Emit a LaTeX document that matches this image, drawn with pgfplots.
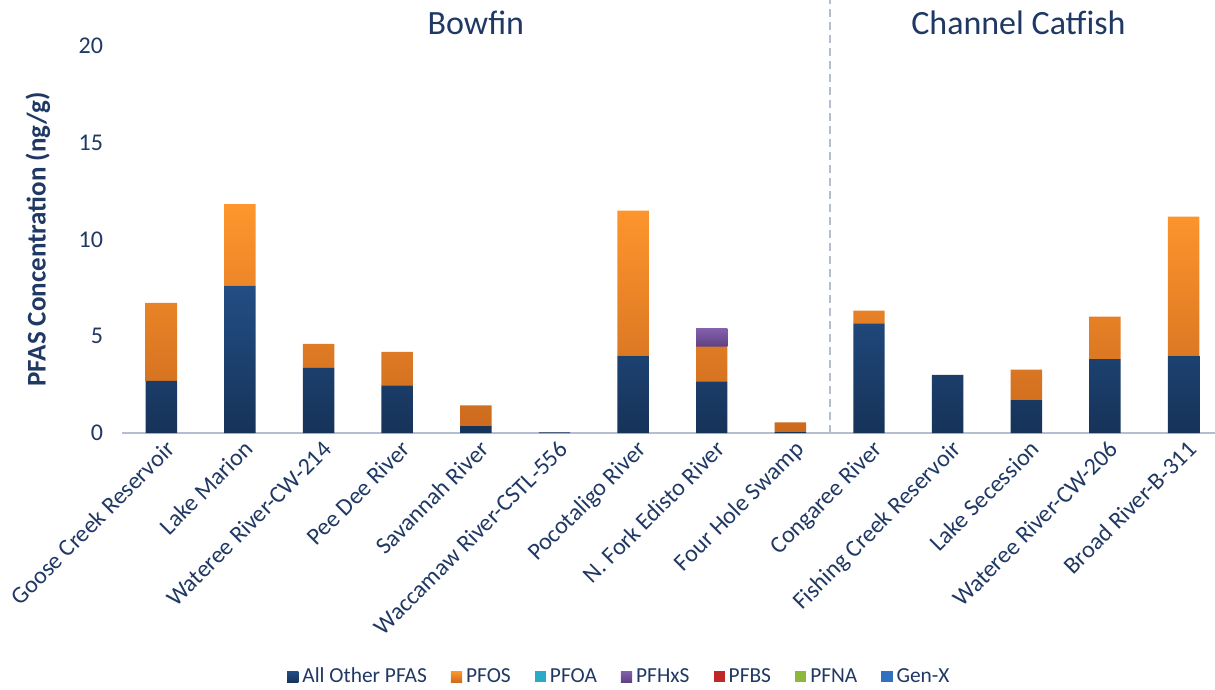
\documentclass[border=0pt]{standalone}
\usepackage{fontspec}
\setmainfont{Carlito}
\usepackage{pgfplots}
\pgfplotsset{compat=1.18}
\usepackage{pgfplotstable}

\definecolor{navytxt}{RGB}{31,56,100}
\definecolor{otherTop}{RGB}{34,78,132}
\definecolor{otherBot}{RGB}{22,51,89}
\definecolor{pfosTop}{RGB}{255,150,45}
\definecolor{pfosBot}{RGB}{203,106,30}
\definecolor{pfoaC}{RGB}{40,170,200}
\definecolor{hxsTop}{RGB}{132,96,172}
\definecolor{hxsBot}{RGB}{94,64,130}
\definecolor{pfbsC}{RGB}{190,40,40}
\definecolor{pfnaC}{RGB}{140,185,60}
\definecolor{genxC}{RGB}{52,112,192}
\definecolor{axisgray}{RGB}{180,190,206}

% PFAS concentrations (ng/g) by site
\pgfplotstableread{
x other pfos pfoa pfhxs pfbs pfna genx
0  2.70 4.02 0 0    0 0 0
1  7.61 4.22 0 0    0 0 0
2  3.37 1.23 0 0    0 0 0
3  2.46 1.73 0 0    0 0 0
4  0.38 1.05 0 0    0 0 0
5  0.03 0.00 0 0    0 0 0
6  4.00 7.49 0 0    0 0 0
7  2.67 1.79 0 0.93 0 0 0
8  0.04 0.51 0 0    0 0 0
9  5.67 0.65 0 0    0 0 0
10 3.01 0.00 0 0    0 0 0
11 1.70 1.57 0 0    0 0 0
12 3.82 2.19 0 0    0 0 0
13 4.00 7.18 0 0    0 0 0
}\pfasdata

\begin{document}
\begin{tikzpicture}
\begin{axis}[
  at={(0,0)}, anchor=south west,
  scale only axis,
  width=546.5pt, height=193.5pt,
  ybar stacked,
  bar width=0.4,
  xmin=-0.5, xmax=13.4,
  ymin=0, ymax=20,
  ytick={0,5,10,15,20},
  xtick={0,...,13},
  xticklabels={Goose Creek Reservoir, Lake Marion, Wateree River-CW-214, Pee Dee River, Savannah River, Waccamaw River-CSTL-556, Pocotaligo River, N. Fork Edisto River, Four Hole Swamp, Congaree River, Fishing Creek Reservoir, Lake Secession, Wateree River-CW-206, Broad River-B-311},
  x tick label style={rotate=45, anchor=north east, font=\fontsize{12}{14}\selectfont, text=navytxt, inner sep=1pt, yshift=-2pt},
  y tick label style={font=\fontsize{12}{14}\selectfont, text=navytxt, xshift=-6pt},
  /pgf/number format/assume math mode=true,
  major tick length=0pt,
  axis x line*=bottom,
  axis y line*=left,
  x axis line style={draw=axisgray, line width=0.8pt, -},
  y axis line style={draw=none},
  ylabel={PFAS Concentration (ng/g)},
  every axis y label/.style={at={(axis description cs:-0.077,0.5)}, rotate=90, anchor=center, font=\fontsize{13.5}{15}\selectfont\bfseries, text=navytxt},
  clip=false,
  every axis plot post/.append style={legend image code/.code={\fill[##1] (0pt,-2.8pt) rectangle (5.6pt,2.8pt);}},
  legend style={at={(axis description cs:0.456,-0.63)}, anchor=center, draw=none, fill=none,
    legend columns=7, font=\fontsize{10.7}{12}\selectfont, text=navytxt,
    /tikz/every even column/.append style={column sep=10pt},
    legend cell align=left},
]
\addplot[draw=none, top color=otherTop, bottom color=otherBot] table[x=x, y=other] {\pfasdata};
\addlegendentry{All Other PFAS}
\addplot[draw=none, top color=pfosTop, bottom color=pfosBot] table[x=x, y=pfos] {\pfasdata};
\addlegendentry{PFOS}
\addplot[draw=none, fill=pfoaC] table[x=x, y=pfoa] {\pfasdata};
\addlegendentry{PFOA}
\addplot[draw=none, top color=hxsTop, bottom color=hxsBot] table[x=x, y=pfhxs] {\pfasdata};
\addlegendentry{PFHxS}
\addplot[draw=none, fill=pfbsC] table[x=x, y=pfbs] {\pfasdata};
\addlegendentry{PFBS}
\addplot[draw=none, fill=pfnaC] table[x=x, y=pfna] {\pfasdata};
\addlegendentry{PFNA}
\addplot[draw=none, fill=genxC] table[x=x, y=genx] {\pfasdata};
\addlegendentry{Gen-X}

% divider between the two species
\draw[axisgray, line width=0.8pt, dash pattern=on 4pt off 2.5pt] (axis cs:8.5,0) -- (axis cs:8.5,22.4);
\node[text=navytxt, font=\fontsize{17}{20}\selectfont] at (axis cs:4,21.2) {Bowfin};
\node[text=navytxt, font=\fontsize{17}{20}\selectfont] at (axis cs:10.9,21.2) {Channel Catfish};
\end{axis}
\pgfresetboundingbox
\path[use as bounding box] (-61pt,-128.5pt) rectangle (546.5pt,216.5pt);
\end{tikzpicture}
\end{document}
